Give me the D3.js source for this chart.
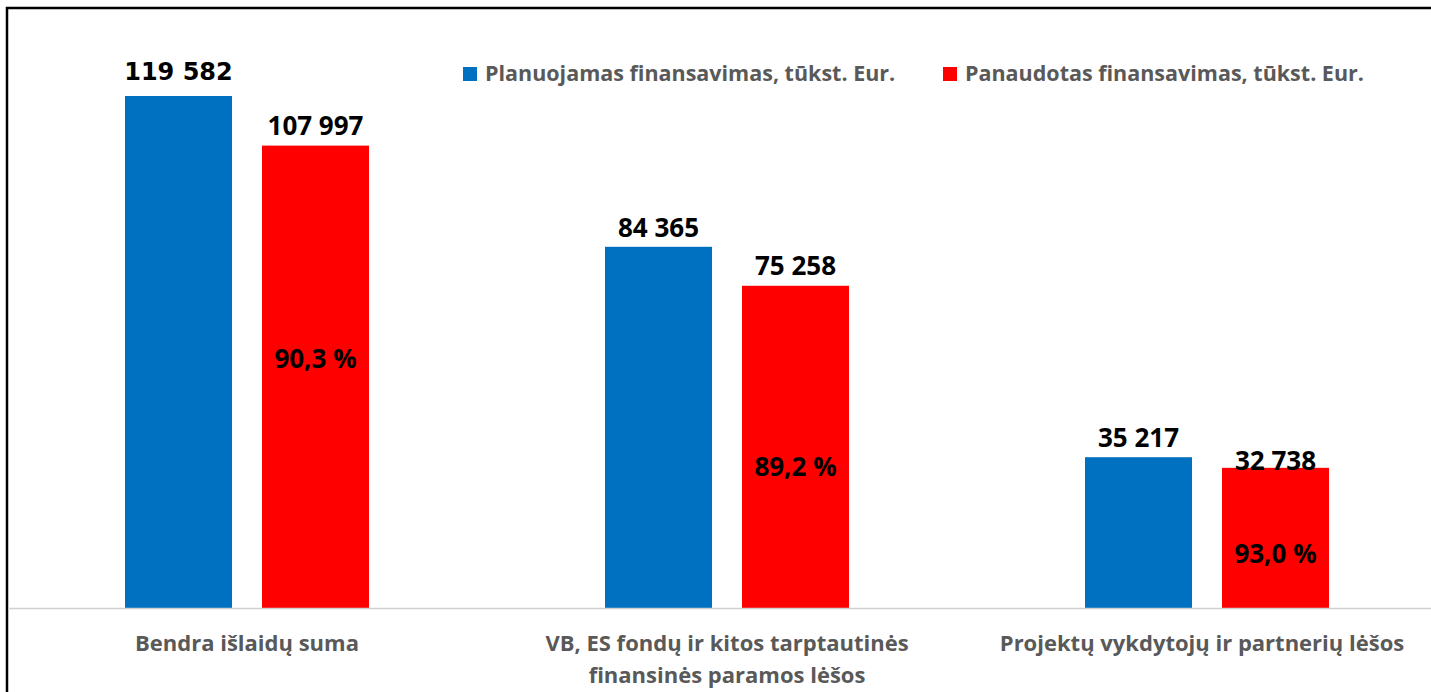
<!DOCTYPE html>
<html>
<head>
<meta charset="utf-8">
<script src="https://cdn.jsdelivr.net/npm/d3@7"></script>
<style>
  html, body { margin: 0; padding: 0; background: #fff; }
  svg { display: block; }
</style>
</head>
<body>
<script>
// duomenys
const categories = [
  ["Bendra išlaidų suma"],
  ["VB, ES fondų ir kitos tarptautinės", "finansinės paramos lėšos"],
  ["Projektų vykdytojų ir partnerių lėšos"]
];
const planned = [119582, 84365, 35217];
const used = [107997, 75258, 32738];
const percents = ["90,3 %", "89,2 %", "93,0 %"];
const seriesNames = ["Planuojamas finansavimas, tūkst. Eur.", "Panaudotas finansavimas, tūkst. Eur."];
const colors = ["#0070c0", "#ff0000"];

const width = 1431, height = 692;
const baseY = 608;

// kur dėti procentų etiketes (dalis stulpelio aukščio)
const pctPos = [0.54, 0.44, 0.39];

const svg = d3.select("body").append("svg")
    .attr("width", width)
    .attr("height", height);

// rėmelis
svg.append("rect")
    .attr("x", 7).attr("y", 8)
    .attr("width", width + 20).attr("height", height + 20)
    .attr("fill", "none")
    .attr("stroke", "#000")
    .attr("stroke-width", 2.5);

const x0 = d3.scaleBand()
    .domain(d3.range(categories.length))
    .range([7, 1447])
    .paddingInner(0)
    .paddingOuter(0);

const x1 = d3.scaleBand()
    .domain([0, 1])
    .range([0, 244])
    .paddingInner(30 / 137)
    .paddingOuter(0);

const y = d3.scaleLinear()
    .domain([0, 119582])
    .range([baseY, 96]);

const groupOffset = (x0.bandwidth() - 244) / 2;

const groups = svg.selectAll(".grp")
    .data(d3.range(categories.length))
    .enter().append("g")
    .attr("class", "grp")
    .attr("transform", i => `translate(${x0(i) + groupOffset},0)`);

// stulpeliai
groups.append("rect")
    .attr("x", x1(0))
    .attr("y", i => y(planned[i]))
    .attr("width", x1.bandwidth())
    .attr("height", i => baseY - y(planned[i]))
    .attr("fill", colors[0]);

groups.append("rect")
    .attr("x", x1(1))
    .attr("y", i => y(used[i]))
    .attr("width", x1.bandwidth())
    .attr("height", i => baseY - y(used[i]))
    .attr("fill", colors[1]);

const fmt = v => d3.format(",")(v).replace(/,/g, " ");

// reikšmių etiketės
groups.append("text")
    .attr("x", x1(0) + x1.bandwidth() / 2)
    .attr("y", i => y(planned[i]) - (i === 0 ? 16 : 10))
    .attr("text-anchor", "middle")
    .style("font-family", i => i === 0 ? "DejaVu Sans" : "Open Sans")
    .style("font-weight", "bold")
    .style("font-size", i => i === 0 ? "24px" : "26px")
    .style("fill", "#000")
    .text(i => fmt(planned[i]));

groups.append("text")
    .attr("x", x1(1) + x1.bandwidth() / 2)
    .attr("y", i => i === 2 ? y(used[i]) + 2 : y(used[i]) - 11)
    .attr("text-anchor", "middle")
    .style("font-family", "Open Sans")
    .style("font-weight", "bold")
    .style("font-size", "26px")
    .style("fill", "#000")
    .text(i => fmt(used[i]));

groups.append("text")
    .attr("x", x1(1) + x1.bandwidth() / 2)
    .attr("y", i => y(used[i] * pctPos[i]))
    .attr("dy", "0.36em")
    .attr("text-anchor", "middle")
    .style("font-family", "Open Sans")
    .style("font-weight", "bold")
    .style("font-size", "26px")
    .style("fill", "#000")
    .text(i => percents[i]);

// ašis
svg.append("line")
    .attr("x1", 8).attr("x2", width)
    .attr("y1", baseY + 0.5).attr("y2", baseY + 0.5)
    .attr("stroke", "#cfcfcf")
    .attr("stroke-width", 1.5);

// kategorijų pavadinimai
const catText = svg.selectAll(".cat")
    .data(d3.range(categories.length))
    .enter().append("text")
    .attr("class", "cat")
    .attr("text-anchor", "middle")
    .attr("transform", i => `translate(${x0(i) + x0.bandwidth() / 2 - (i === 2 ? 5 : 0)},651)`)
    .style("font-family", "Open Sans")
    .style("font-weight", "bold")
    .style("font-size", "22px")
    .style("fill", "#595959");

catText.selectAll("tspan")
    .data(i => categories[i])
    .enter().append("tspan")
    .attr("x", 0)
    .attr("dy", (d, j) => j === 0 ? 0 : 32)
    .text(d => d);

// legenda
const legendX = [463, 943];
const legend = svg.selectAll(".leg")
    .data(seriesNames)
    .enter().append("g")
    .attr("class", "leg")
    .attr("transform", (d, i) => `translate(${legendX[i]},67)`);

legend.append("rect")
    .attr("width", 14).attr("height", 14)
    .attr("fill", (d, i) => colors[i]);

legend.append("text")
    .attr("x", 22).attr("y", 14)
    .style("font-family", "Open Sans")
    .style("font-weight", "bold")
    .style("font-size", "21.5px")
    .style("fill", "#595959")
    .text(d => d);
</script>
</body>
</html>
